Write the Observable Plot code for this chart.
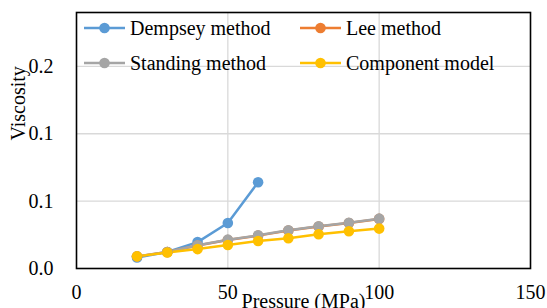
<!DOCTYPE html>
<html><head><meta charset="utf-8">
<script src="https://cdn.jsdelivr.net/npm/d3@7"></script>
<script src="https://cdn.jsdelivr.net/npm/@observablehq/plot@0.6"></script>
<style>
body{margin:0;background:#fff;}
#wrap{position:relative;width:547px;height:308px;}
#wrap, #wrap svg, #wrap text, .leg{font-family:'Liberation Serif','Times New Roman','DejaVu Serif',serif !important;}
.leg{position:absolute;display:flex;align-items:center;font-size:20px;color:#000;white-space:nowrap;}
.leg svg{margin-right:5px;}
</style>
</head><body><div id="wrap"></div>
<script>
const series = ["Dempsey method","Lee method","Standing method","Component model"];
const colors = ["#5B9BD5","#ED7D31","#A5A5A5","#FFC000"];
const pressure = [20,30,40,50,60,70,80,90,100];
const dempsey = [0.0082,0.0122,0.0196,0.0338,0.064];
const lee = [0.009,0.0123,0.0170,0.0212,0.0244,0.0282,0.0311,0.0338,0.0368];
const standing = [0.009,0.0123,0.0172,0.0214,0.0246,0.0284,0.0313,0.034,0.037];
const component = [0.009,0.0119,0.0144,0.0174,0.0204,0.0224,0.0254,0.0276,0.0296];
const yTicks = [0,0.05,0.1,0.15];
const xTicks = [0,50,100,150];

const vals = [dempsey, lee, standing, component];
const data = [];
vals.forEach((arr,i)=>arr.forEach((v,j)=>data.push({series:series[i],p:pressure[j],v})));
const fmt1 = d => (Math.round(d*10+1e-9)/10).toFixed(1);

const chart = Plot.plot({
  width:547,height:308,
  marginLeft:76,marginRight:17,marginTop:12,marginBottom:40,
  style:{fontSize:"20px",color:"#000",background:"#fff"},
  x:{domain:[0,150],ticks:xTicks},
  y:{domain:[0,0.19],ticks:yTicks},
  color:{domain:series,range:colors},
  marks:[
    Plot.gridX([50,100],{stroke:"#D9D9D9",strokeOpacity:1,strokeWidth:1.3}),
    Plot.gridY([0.05,0.1,0.15],{stroke:"#D9D9D9",strokeOpacity:1,strokeWidth:1.3}),
    Plot.line(data,{x:"p",y:"v",z:"series",stroke:"series",strokeWidth:2.5}),
    ...series.map(s=>Plot.dot(data.filter(d=>d.series===s),{x:"p",y:"v",fill:"series",r:5.3})),
    Plot.frame({stroke:"#000",strokeWidth:1.6}),
    Plot.axisY(yTicks,{tickSize:0,tickPadding:23,tickFormat:fmt1,label:null,fontSize:20}),
    Plot.axisX(xTicks,{tickSize:0,tickPadding:16,label:null,fontSize:20}),
    Plot.text(["Viscosity"],{frameAnchor:"left",dx:-58,rotate:-90,text:d=>d,fontSize:20}),
    Plot.text(["Pressure (MPa)"],{frameAnchor:"bottom",dy:39,text:d=>d,fontSize:20})
  ]
});
const wrap = document.getElementById("wrap");
wrap.appendChild(chart);

const pos = [[84,28],[300,28],[84,63],[300,63]];
series.forEach((s,i)=>{
  const d = document.createElement("div");
  d.className="leg";
  d.style.left=pos[i][0]+"px";
  d.style.top=(pos[i][1]-11)+"px";
  d.style.height="22px";
  d.innerHTML=`<svg width="41" height="22"><line x1="0" y1="11" x2="41" y2="11" stroke="${colors[i]}" stroke-width="2.5"/><circle cx="20.5" cy="11" r="5.3" fill="${colors[i]}"/></svg><span>${s}</span>`;
  wrap.appendChild(d);
});
</script></body></html>
